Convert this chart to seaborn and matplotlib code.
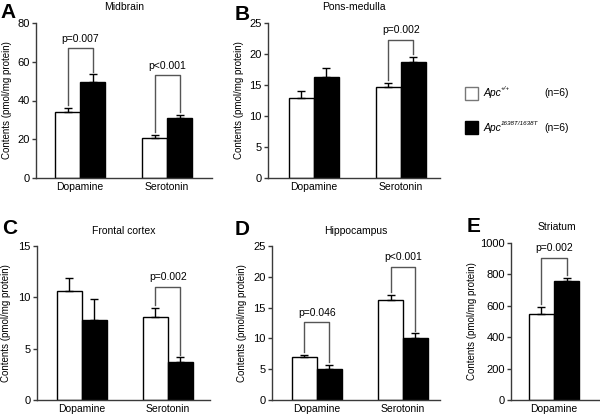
import matplotlib
matplotlib.use("Agg")
import matplotlib.pyplot as plt
import pandas as pd
import seaborn as sns
from matplotlib.patches import Rectangle

# ---- data ----
transmitters = ["Dopamine", "Serotonin"]
genotypes = ["Apc+/+", "Apc1638T/1638T"]

midbrain_wt = [34.2, 20.8]
midbrain_wt_err = [2.0, 1.6]
midbrain_ko = [49.5, 31.0]
midbrain_ko_err = [4.0, 1.4]

pons_wt = [12.9, 14.7]
pons_wt_err = [1.2, 0.6]
pons_ko = [16.3, 18.7]
pons_ko_err = [1.5, 0.8]

frontal_wt = [10.6, 8.05]
frontal_wt_err = [1.3, 0.9]
frontal_ko = [7.8, 3.75]
frontal_ko_err = [2.05, 0.4]

hippo_wt = [7.0, 16.2]
hippo_wt_err = [0.35, 0.9]
hippo_ko = [5.0, 10.1]
hippo_ko_err = [0.75, 0.7]

striatum_cats = ["Dopamine"]
striatum_wt = [550]
striatum_wt_err = [45]
striatum_ko = [755]
striatum_ko_err = [20]

# (category index, label, bracket top)
midbrain_p = [(0, "p=0.007", 67), (1, "p<0.001", 53)]
pons_p = [(1, "p=0.002", 22.3)]
frontal_p = [(1, "p=0.002", 11.0)]
hippo_p = [(0, "p=0.046", 12.6), (1, "p<0.001", 21.6)]
striatum_p = [(0, "p=0.002", 905)]

plt.rcParams["font.family"] = ["Liberation Sans", "DejaVu Sans"]

W, H = 600, 417
fig = plt.figure(figsize=(6, 4.17), dpi=100)

SPINE = "#3a3a3a"
GREY = "#555555"


def px_axes(x0, x1, ytop, ybot):
    return fig.add_axes([x0 / W, (H - ybot) / H, (x1 - x0) / W, (ybot - ytop) / H])


def panel(ax, cats, wt, wt_err, ko, ko_err, pvals, ymax, step, xlim, title,
          ylabel_px):
    df = pd.DataFrame({
        "transmitter": cats * 2,
        "genotype": [genotypes[0]] * len(cats) + [genotypes[1]] * len(cats),
        "value": list(wt) + list(ko),
    })
    sns.barplot(data=df, x="transmitter", y="value", hue="genotype",
                palette=["white", "black"], edgecolor="black", linewidth=1,
                width=0.575, gap=0, errorbar=None, saturation=1,
                legend=False, ax=ax, zorder=2)
    tops = []
    for cont, vals, errs in zip(ax.containers, [wt, ko], [wt_err, ko_err]):
        xs = [b.get_x() + b.get_width() / 2 for b in cont]
        ax.errorbar(xs, vals, yerr=[[0] * len(vals), errs], fmt="none",
                    ecolor="black", elinewidth=1, capsize=3, capthick=1,
                    zorder=3)
        tops.append([(x, v + e) for x, v, e in zip(xs, vals, errs)])

    gap = ymax * 0.018
    for i, label, top in pvals:
        (xa, ya), (xb, yb) = tops[0][i], tops[1][i]
        ax.plot([xa, xa, xb, xb], [ya + gap, top, top, yb + gap],
                color=GREY, lw=1, zorder=4, clip_on=False)
        ax.text((xa + xb) / 2, top + ymax * 0.03, label, ha="center",
                va="bottom", fontsize=7.5)

    ax.set_xlim(*xlim)
    ax.set_ylim(0, ymax)
    ax.set_yticks(range(0, ymax + 1, step))
    ax.set_xlabel("")
    ax.set_ylabel("Contents (pmol/mg protein)", fontsize=7)
    bbox = ax.get_position()
    ax_w = bbox.width * W
    ax.yaxis.set_label_coords(-(bbox.x0 * W - ylabel_px) / ax_w, 0.5)
    ax.set_title(title, fontsize=7.5, pad=9)
    sns.despine(ax=ax)
    for s in ("left", "bottom"):
        ax.spines[s].set_color(SPINE)
        ax.spines[s].set_linewidth(1)
    ax.tick_params(axis="y", length=3, width=1, color=SPINE, labelsize=8,
                   pad=1.5)
    ax.tick_params(axis="x", length=0, labelsize=7.5, pad=3)
    ax.set_facecolor("white")


ax_a = px_axes(36, 212, 23, 178)
panel(ax_a, transmitters, midbrain_wt, midbrain_wt_err, midbrain_ko,
      midbrain_ko_err, midbrain_p, 80, 20, (-0.506, 1.517), "Midbrain", 12)

ax_b = px_axes(268, 440, 23, 178)
panel(ax_b, transmitters, pons_wt, pons_wt_err, pons_ko, pons_ko_err,
      pons_p, 25, 5, (-0.529, 1.45), "Pons-medulla", 244)

ax_c = px_axes(37, 210, 246, 400)
panel(ax_c, transmitters, frontal_wt, frontal_wt_err, frontal_ko,
      frontal_ko_err, frontal_p, 15, 5, (-0.52, 1.49), "Frontal cortex", 11)

ax_d = px_axes(272, 440, 246, 400)
panel(ax_d, transmitters, hippo_wt, hippo_wt_err, hippo_ko, hippo_ko_err,
      hippo_p, 25, 5, (-0.52, 1.43), "Hippocampus", 247)

ax_e = px_axes(511, 603, 243, 400)
panel(ax_e, striatum_cats, striatum_wt, striatum_wt_err, striatum_ko,
      striatum_ko_err, striatum_p, 1000, 200, (-0.494, 0.563), "Striatum",
      477)

# panel letters
for letter, x, y in [("A", 0, 3), ("B", 235, 5), ("C", 2, 219),
                     ("D", 235, 220), ("E", 467, 217)]:
    fig.text(x / W, 1 - y / H, letter, fontsize=15, fontweight="bold",
             ha="left", va="top")

# legend
fig.patches.append(Rectangle((465 / W, 1 - 100 / H), 13 / W, 13 / H,
                             facecolor="white", edgecolor="#777777", lw=1,
                             transform=fig.transFigure, figure=fig))
fig.patches.append(Rectangle((465 / W, 1 - 134 / H), 13 / W, 13 / H,
                             facecolor="black", edgecolor="black", lw=1,
                             transform=fig.transFigure, figure=fig))
fig.text(484 / W, 1 - 93 / H, "Apc", fontsize=7.5, style="italic",
         va="center")
fig.text(501 / W, 1 - 89 / H, "+/+", fontsize=4.5, style="italic",
         va="center")
fig.text(484 / W, 1 - 128 / H, "Apc", fontsize=7.5, style="italic",
         va="center")
fig.text(501 / W, 1 - 124 / H, "1638T/1638T", fontsize=4.5, style="italic",
         va="center")
fig.text(544 / W, 1 - 93 / H, "(n=6)", fontsize=7.5, va="center")
fig.text(544 / W, 1 - 128 / H, "(n=6)", fontsize=7.5, va="center")

fig.savefig("out.png", dpi=100, facecolor="white")
